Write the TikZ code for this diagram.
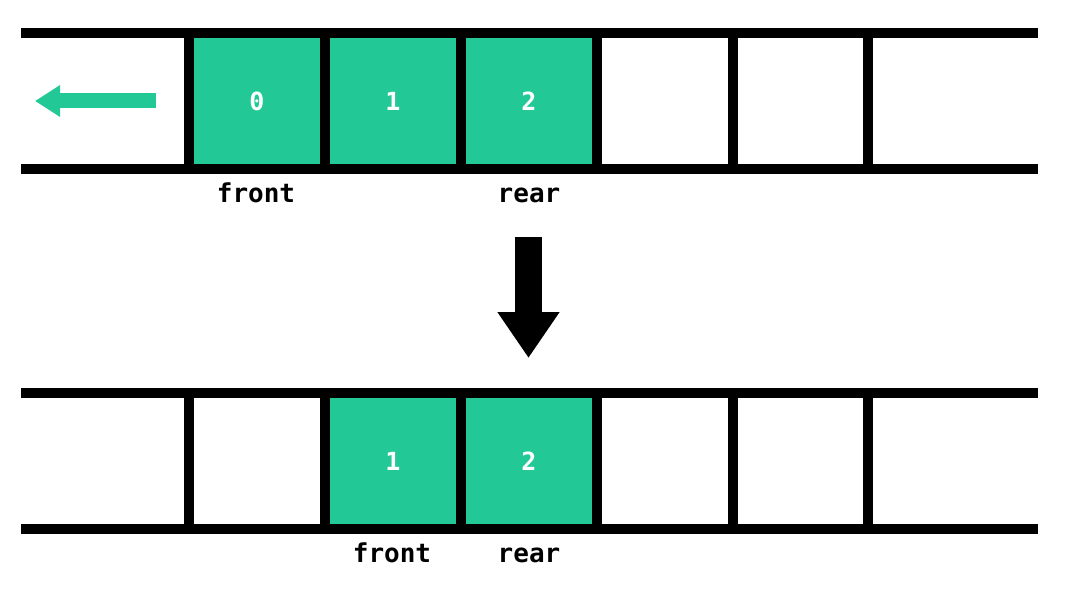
\documentclass[tikz,border=0pt]{standalone}
\usepackage{fontspec}
\setmonofont{DejaVu Sans Mono}
\usetikzlibrary{arrows.meta,positioning}
\definecolor{queueGreen}{RGB}{34,201,151}

\tikzset{
  rail/.style={line width=10pt, line cap=butt},
  cellfill/.style={fill=queueGreen},
  cellnum/.style={text=white, font=\ttfamily\bfseries\fontsize{25}{30}\selectfont},
  ptrlabel/.style={anchor=base, font=\ttfamily\bfseries\fontsize{26}{30}\selectfont}
}

\begin{document}
\begin{tikzpicture}[x=1pt, y=-1pt]
\useasboundingbox (0,0) rectangle (1066,591);

% queue before dequeue
\fill[cellfill] (189,33) rectangle (597,169);
\draw[rail] (21,33) -- (1038,33);
\draw[rail] (21,169) -- (1038,169);
\foreach \x in {189,325,461,597,733,868}
  \draw[rail] (\x,33) -- (\x,169);
\node[cellnum] (a0) at (257,101) {0};
\node[cellnum] (a1) at (393,101) {1};
\node[cellnum] (a2) at (529,101) {2};
\node[ptrlabel] (frontA) at (256,202) {front};
\node[ptrlabel] (rearA) at (529,202) {rear};

% direction of dequeue
\coordinate (outStart) at (156,101);
\coordinate (outEnd) at (35,101);
\draw[queueGreen, line width=15pt, -{Triangle[length=25pt,width=30pt]}] (outStart) -- (outEnd);

% step arrow
\coordinate (stepTop) at (528.5,237);
\coordinate (stepBot) at (528.5,358);
\draw[black, line width=27pt, -{Triangle[length=46pt,width=59pt]}] (stepTop) -- (stepBot);

% queue after dequeue
\fill[cellfill] (325,393) rectangle (597,529);
\draw[rail] (21,393) -- (1038,393);
\draw[rail] (21,529) -- (1038,529);
\foreach \x in {189,325,461,597,733,868}
  \draw[rail] (\x,393) -- (\x,529);
\node[cellnum] (b1) at (393,461) {1};
\node[cellnum] (b2) at (529,461) {2};
\node[ptrlabel] (frontB) at (392,562) {front};
\node[ptrlabel] (rearB) at (529,562) {rear};
\end{tikzpicture}
\end{document}
